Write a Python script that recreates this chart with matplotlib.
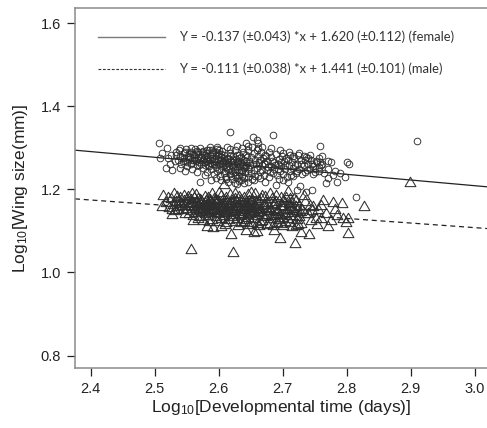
import matplotlib
matplotlib.use("Agg")
import matplotlib.pyplot as plt
from matplotlib.path import Path
import numpy as np

# ---------------- data ----------------
female_pts = [
    (2.507,1.311),(2.519,1.299),(2.512,1.287),(2.508,1.275),(2.517,1.251),(2.527,1.247),(2.524,1.262),(2.531,1.268),
    (2.571,1.217),(2.617,1.338),(2.684,1.332),(2.758,1.305),(2.909,1.317),(2.814,1.182),(2.800,1.265),(2.803,1.262),
    (2.775,1.265),(2.767,1.215),(2.745,1.199),(2.736,1.195),(2.727,1.208),(2.722,1.199),(2.646,1.219),(2.672,1.217),
    (2.689,1.211),(2.700,1.223),(2.716,1.232),(2.659,1.319),(2.654,1.326),(2.662,1.312),(2.642,1.311),(2.737,1.278),
    (2.752,1.268),(2.762,1.262),(2.790,1.240),(2.797,1.230),(2.784,1.218),(2.782,1.245),(2.770,1.250),(2.756,1.245),
    (2.748,1.238),(2.742,1.250),(2.604,1.222),(2.612,1.225),(2.625,1.215),(2.632,1.220),(2.588,1.222),(2.595,1.228),
    (2.533,1.283),(2.536,1.272),(2.538,1.295),(2.541,1.262),(2.543,1.278),(2.545,1.288),(2.547,1.268),(2.549,1.298),
    (2.551,1.256),(2.552,1.281),(2.554,1.273),(2.556,1.291),(2.557,1.264),(2.559,1.249),(2.560,1.285),(2.561,1.276),
    (2.563,1.297),(2.564,1.268),(2.566,1.258),(2.567,1.289),(2.568,1.279),(2.570,1.271),(2.571,1.300),(2.572,1.262),
    (2.574,1.284),(2.575,1.252),(2.576,1.293),(2.577,1.274),(2.578,1.266),(2.580,1.287),(2.581,1.243),(2.582,1.279),
    (2.583,1.259),(2.585,1.296),(2.586,1.270),(2.587,1.283),(2.588,1.250),(2.589,1.262),(2.590,1.276),(2.591,1.291),
    (2.592,1.238),(2.594,1.268),(2.595,1.281),(2.596,1.255),(2.597,1.297),(2.598,1.244),(2.599,1.273),(2.600,1.286),
    (2.601,1.261),(2.602,1.233),(2.603,1.278),(2.604,1.249),(2.605,1.292),(2.606,1.267),(2.607,1.257),(2.608,1.240),
    (2.609,1.282),(2.610,1.271),(2.611,1.230),(2.612,1.263),(2.613,1.303),(2.614,1.248),(2.615,1.276),(2.616,1.257),
    (2.617,1.238),(2.618,1.288),(2.619,1.268),(2.620,1.245),(2.621,1.226),(2.622,1.281),(2.623,1.254),(2.624,1.262),
    (2.625,1.236),(2.626,1.296),(2.627,1.273),(2.628,1.247),(2.629,1.228),(2.630,1.266),(2.631,1.284),(2.632,1.241),
    (2.633,1.256),(2.634,1.223),(2.635,1.277),(2.636,1.262),(2.637,1.233),(2.638,1.290),(2.639,1.251),(2.640,1.270),
    (2.641,1.243),(2.642,1.283),(2.643,1.260),(2.645,1.230),(2.646,1.295),(2.647,1.268),(2.648,1.250),(2.650,1.277),
    (2.651,1.240),(2.652,1.302),(2.653,1.262),(2.655,1.287),(2.656,1.232),(2.657,1.272),(2.659,1.295),(2.660,1.252),
    (2.661,1.280),(2.663,1.265),(2.664,1.243),(2.666,1.290),(2.667,1.258),(2.669,1.275),(2.670,1.236),(2.672,1.284),
    (2.673,1.262),(2.675,1.247),(2.676,1.269),(2.678,1.291),(2.679,1.229),(2.681,1.256),(2.682,1.278),(2.684,1.240),
    (2.686,1.266),(2.687,1.250),(2.689,1.285),(2.691,1.234),(2.692,1.262),(2.694,1.274),(2.696,1.244),(2.697,1.256),
    (2.699,1.281),(2.700,1.238),(2.702,1.268),(2.704,1.250),(2.705,1.276),(2.707,1.229),(2.709,1.260),(2.711,1.245),
    (2.712,1.282),(2.714,1.267),(2.716,1.252),(2.718,1.276),(2.720,1.240),(2.722,1.262),(2.724,1.284),(2.726,1.250),
    (2.728,1.270),(2.730,1.238),(2.733,1.258),(2.735,1.272),(2.738,1.247),(2.740,1.262),(2.744,1.270),(2.747,1.256),
    (2.750,1.242),(2.753,1.265),(2.756,1.254),(2.760,1.258),(2.765,1.240),(2.771,1.228),(2.778,1.236),
    (2.545,1.276),(2.550,1.266),(2.555,1.279),(2.558,1.270),(2.562,1.282),(2.565,1.286),(2.569,1.266),(2.573,1.279),
    (2.576,1.270),(2.579,1.282),(2.582,1.268),(2.584,1.276),(2.587,1.264),(2.590,1.285),(2.593,1.274),(2.596,1.265),
    (2.599,1.282),(2.602,1.271),(2.605,1.262),(2.608,1.276),(2.611,1.254),(2.614,1.266),(2.617,1.280),(2.620,1.258),
    (2.623,1.271),(2.626,1.250),(2.629,1.264),(2.632,1.275),(2.635,1.248),(2.638,1.260),(2.641,1.255),(2.644,1.277),
    (2.520,1.276),(2.525,1.284),(2.540,1.300),(2.557,1.300),(2.586,1.303),(2.600,1.296),(2.628,1.305),(2.646,1.305),
    (2.668,1.302),(2.681,1.300),(2.695,1.296),(2.710,1.291),(2.725,1.288),(2.742,1.283),(2.757,1.275),(2.770,1.268),
    (2.534,1.290),(2.539,1.281),(2.544,1.269),(2.548,1.291),(2.553,1.287),(2.556,1.262),(2.562,1.271),(2.566,1.293),
    (2.569,1.258),(2.574,1.290),(2.578,1.258),(2.581,1.296),(2.585,1.256),(2.589,1.294),(2.593,1.262),(2.596,1.290),
    (2.601,1.250),(2.604,1.285),(2.607,1.268),(2.610,1.244),(2.613,1.274),(2.616,1.250),(2.619,1.233),(2.622,1.266),
    (2.625,1.243),(2.628,1.282),(2.631,1.232),(2.634,1.266),(2.637,1.245),(2.640,1.228),(2.643,1.268),(2.646,1.240),
    (2.649,1.258),(2.652,1.226),(2.655,1.248),(2.658,1.262),(2.662,1.233),(2.665,1.272),(2.668,1.246),(2.671,1.264),
    (2.674,1.280),(2.677,1.255),(2.680,1.243),(2.683,1.268),(2.688,1.258),(2.693,1.249),(2.698,1.266),(2.703,1.258),
    (2.708,1.272),(2.713,1.236),(2.719,1.258),(2.723,1.244),(2.729,1.262),(2.734,1.243),(2.739,1.275),(2.745,1.262),
    (2.751,1.250),(2.758,1.266),(2.615,1.218),(2.628,1.212),(2.640,1.216),(2.655,1.222),(2.665,1.228),(2.694,1.226),
    (2.708,1.218),(2.566,1.242),(2.579,1.236),(2.548,1.245),(2.540,1.252),(2.598,1.303),(2.618,1.298),(2.637,1.300),
    (2.662,1.300),(2.700,1.288),(2.716,1.280),(2.733,1.280),(2.761,1.280),
]

male_pts = [
    (2.513,1.184),(2.512,1.157),(2.527,1.139),(2.530,1.190),(2.545,1.185),(2.558,1.190),(2.556,1.053),(2.623,1.048),
    (2.719,1.068),(2.695,1.080),(2.741,1.090),(2.729,1.094),(2.802,1.093),(2.827,1.157),(2.899,1.216),(2.619,1.090),
    (2.643,1.099),(2.655,1.096),(2.659,1.098),(2.687,1.101),(2.770,1.109),(2.753,1.114),(2.799,1.120),(2.802,1.130),
    (2.794,1.130),(2.792,1.165),(2.778,1.168),(2.781,1.150),(2.763,1.172),(2.755,1.150),(2.760,1.130),(2.752,1.128),
    (2.744,1.125),(2.735,1.141),(2.730,1.150),(2.722,1.149),(2.713,1.167),(2.748,1.158),(2.768,1.140),(2.785,1.135),
    (2.728,1.117),(2.720,1.112),(2.712,1.120),(2.700,1.111),(2.604,1.110),(2.591,1.107),(2.582,1.109),(2.575,1.123),
    (2.560,1.135),(2.548,1.141),(2.537,1.150),(2.609,1.210),(2.680,1.190),(2.698,1.180),(2.717,1.178),(2.733,1.184),
    (2.708,1.193),(2.668,1.185),(2.663,1.113),(2.680,1.118),(2.645,1.114),(2.634,1.120),
    (2.565,1.186),(2.578,1.183),(2.590,1.188),(2.603,1.184),(2.618,1.187),(2.632,1.182),(2.645,1.186),(2.657,1.189),
    (2.672,1.183),(2.690,1.185),
    (2.525,1.176),(2.540,1.179),(2.552,1.181),(2.568,1.177),(2.583,1.179),(2.596,1.175),(2.611,1.180),(2.625,1.177),
    (2.640,1.179),(2.652,1.174),(2.666,1.178),(2.683,1.176),(2.705,1.179),
    (2.533,1.169),(2.546,1.172),(2.560,1.168),(2.573,1.171),(2.586,1.169),(2.599,1.172),(2.613,1.168),(2.627,1.171),
    (2.638,1.167),(2.650,1.170),(2.661,1.172),(2.676,1.168),(2.690,1.170),(2.703,1.167),(2.720,1.171),
    (2.528,1.162),(2.540,1.165),(2.553,1.161),(2.565,1.164),(2.577,1.162),(2.589,1.165),(2.601,1.161),(2.614,1.163),
    (2.628,1.160),(2.642,1.164),(2.655,1.162),(2.669,1.159),(2.684,1.163),(2.697,1.161),(2.710,1.164),(2.725,1.160),
    (2.522,1.155),(2.536,1.157),(2.549,1.154),(2.561,1.158),(2.572,1.155),(2.584,1.157),(2.594,1.153),(2.606,1.156),
    (2.619,1.154),(2.633,1.157),(2.647,1.155),(2.660,1.152),(2.674,1.156),(2.688,1.153),(2.702,1.157),(2.716,1.154),
    (2.531,1.148),(2.544,1.151),(2.557,1.147),(2.569,1.150),(2.580,1.148),(2.592,1.151),(2.604,1.147),(2.617,1.149),
    (2.630,1.146),(2.641,1.150),(2.653,1.148),(2.666,1.145),(2.680,1.149),(2.693,1.146),(2.707,1.150),
    (2.553,1.141),(2.565,1.143),(2.578,1.140),(2.588,1.144),(2.600,1.141),(2.611,1.143),(2.624,1.139),(2.637,1.142),
    (2.649,1.140),(2.662,1.143),(2.676,1.139),(2.689,1.142),(2.703,1.140),(2.718,1.143),
    (2.570,1.134),(2.583,1.136),(2.596,1.133),(2.608,1.137),(2.621,1.134),(2.634,1.136),(2.646,1.132),(2.659,1.135),
    (2.672,1.133),(2.686,1.136),(2.699,1.132),(2.712,1.135),(2.725,1.133),
    (2.590,1.127),(2.603,1.129),(2.616,1.126),(2.629,1.130),(2.642,1.127),(2.655,1.129),(2.668,1.125),(2.681,1.128),
    (2.694,1.126),(2.708,1.129),(2.722,1.127),
    (2.612,1.120),(2.625,1.122),(2.651,1.119),(2.664,1.121),(2.691,1.120),(2.704,1.122),
    (2.556,1.174),(2.570,1.175),(2.580,1.173),(2.592,1.176),(2.606,1.174),(2.620,1.172),(2.634,1.175),(2.647,1.173),
    (2.558,1.166),(2.571,1.167),(2.583,1.165),(2.595,1.168),(2.607,1.166),(2.621,1.164),(2.635,1.167),(2.648,1.165),
    (2.662,1.166),
    (2.556,1.159),(2.567,1.160),(2.580,1.158),(2.591,1.160),(2.603,1.158),(2.616,1.160),(2.630,1.158),(2.644,1.160),
    (2.657,1.158),
    (2.563,1.152),(2.575,1.153),(2.587,1.151),(2.598,1.153),(2.611,1.151),(2.624,1.152),(2.637,1.150),(2.650,1.152),
    (2.573,1.145),(2.585,1.146),(2.597,1.144),(2.609,1.146),(2.622,1.145),(2.635,1.146),(2.645,1.144),
    (2.518,1.168),(2.521,1.180),(2.535,1.182),(2.549,1.167),(2.551,1.176),(2.562,1.180),(2.566,1.170),(2.575,1.160),
    (2.578,1.168),(2.581,1.153),(2.587,1.174),(2.593,1.163),(2.596,1.148),(2.600,1.168),(2.602,1.152),(2.609,1.162),
    (2.612,1.171),(2.615,1.144),(2.618,1.166),(2.623,1.158),(2.626,1.147),(2.629,1.168),(2.632,1.141),(2.636,1.160),
    (2.639,1.152),(2.643,1.170),(2.646,1.138),(2.651,1.160),(2.654,1.145),(2.658,1.167),(2.663,1.150),(2.667,1.139),
    (2.671,1.163),(2.675,1.147),(2.679,1.156),(2.682,1.135),(2.686,1.166),(2.691,1.148),(2.695,1.139),(2.699,1.160),
    (2.706,1.144),(2.711,1.152),(2.715,1.136),(2.720,1.158),(2.727,1.146),(2.560,1.125),(2.568,1.130),(2.585,1.121),
    (2.598,1.122),(2.610,1.115),(2.630,1.113),(2.640,1.122),(2.660,1.118),(2.675,1.115),(2.685,1.112),(2.697,1.118),
    (2.715,1.110),(2.724,1.114),(2.542,1.160),(2.538,1.172),(2.527,1.150),(2.600,1.192),(2.625,1.190),(2.650,1.192),
    (2.700,1.172),(2.712,1.176),(2.735,1.170),(2.742,1.160),(2.740,1.140),(2.745,1.148),(2.760,1.160),(2.775,1.125),
]

female_slope, female_intercept = -0.137, 1.620
male_slope, male_intercept = -0.111, 1.441
female_label = "Y = -0.137 (\u00b10.043) *x + 1.620 (\u00b10.112) (female)"
male_label = "Y = -0.111 (\u00b10.038) *x + 1.441 (\u00b10.101) (male)"
xticks = [2.4, 2.5, 2.6, 2.7, 2.8, 2.9, 3.0]
yticks = [0.8, 1.0, 1.2, 1.4, 1.6]

# ---------------- plotting ----------------
plt.rcParams['font.family'] = ['Liberation Sans', 'DejaVu Sans']
plt.rcParams['mathtext.default'] = 'regular'

W, H = 487, 428
fig = plt.figure(figsize=(W/100, H/100), dpi=100)
ax = fig.add_axes([75/W, 1-368/H, 1-75/W, (368-8)/H])

xlim = (2.3755, 3.019)
ax.set_xlim(*xlim)
ax.set_ylim(0.770, 1.637)

fx, fy = zip(*female_pts)
mx, my = zip(*male_pts)

tri = Path([(-1, -0.577), (1, -0.577), (0, 1.155), (-1, -0.577)],
           [Path.MOVETO, Path.LINETO, Path.LINETO, Path.CLOSEPOLY])
ax.plot(mx, my, linestyle='none', marker=tri, markersize=9.0, fillstyle='none',
        markeredgecolor='#2e2e2e', markeredgewidth=0.75, zorder=3)
ax.plot(fx, fy, linestyle='none', marker='o', markersize=4.8, fillstyle='none',
        markeredgecolor='#2e2e2e', markeredgewidth=0.65, zorder=3)

xs = np.array(xlim)
ax.plot(xs, female_intercept + female_slope*xs, color='#222222', lw=0.9, zorder=2)
ax.plot(xs, male_intercept + male_slope*xs, color='#222222', lw=0.9,
        linestyle=(0, (4, 3)), zorder=2)

for s in ['left', 'bottom', 'top']:
    ax.spines[s].set_color('#8a8a8a')
    ax.spines[s].set_linewidth(1.1)
ax.spines['right'].set_visible(False)

ax.set_xticks(xticks)
ax.set_xticklabels([f"{t:.1f}" for t in xticks])
ax.set_yticks(yticks)
ax.set_yticklabels([f"{t:.1f}" for t in yticks])
ax.tick_params(axis='both', direction='out', length=6, width=0.9, color='#222222',
               labelsize=10.5, labelcolor='#222222')
ax.tick_params(axis='x', pad=4)
ax.tick_params(axis='y', pad=4)

ax.set_xlabel('Log$_{10}$[Developmental time (days)]', fontsize=12.5, color='#222222', labelpad=1.5)
ax.set_ylabel('Log$_{10}$[Wing size(mm)]', fontsize=12.5, color='#222222', labelpad=8)

# legend drawn manually
def fx_(px):
    return px / W
def fy_(py):
    return 1 - py / H

fig.add_artist(plt.Line2D([fx_(98), fx_(165)], [fy_(37), fy_(37)], color='#7a7a7a', lw=1.0))
fig.add_artist(plt.Line2D([fx_(98), fx_(165)], [fy_(69), fy_(69)], color='#333333', lw=0.8,
                          linestyle=(0, (2.5, 1.5))))
fig.text(fx_(179), fy_(37), female_label, fontsize=9.4, family=['Lato', 'DejaVu Sans'],
         color='#333333', va='center', ha='left')
fig.text(fx_(179), fy_(69), male_label, fontsize=9.4, family=['Lato', 'DejaVu Sans'],
         color='#333333', va='center', ha='left')

fig.savefig('out.png', dpi=100)
